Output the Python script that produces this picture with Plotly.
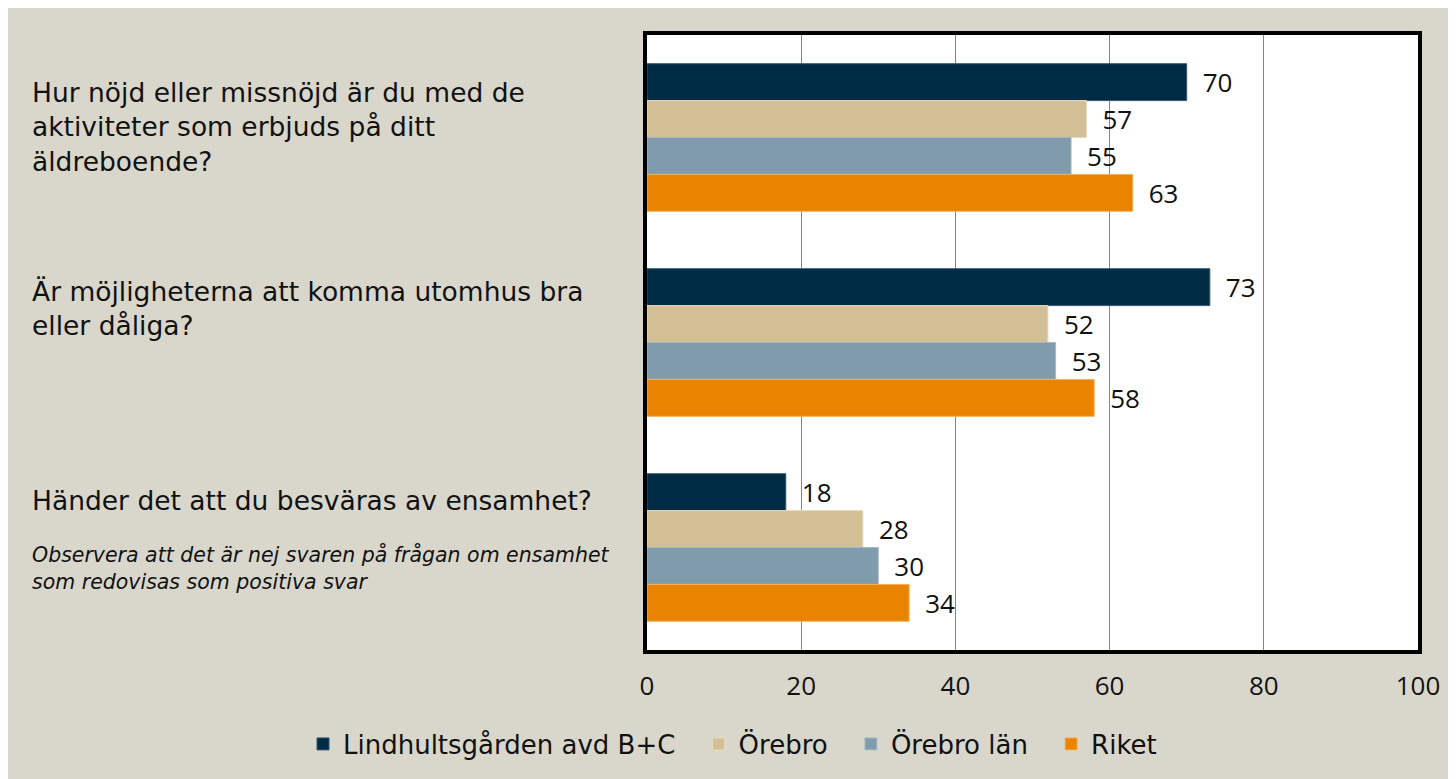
import plotly.graph_objects as go

questions = ["Q1", "Q2", "Q3"]
question_texts = [
    "Hur nöjd eller missnöjd är du med de<br>aktiviteter som erbjuds på ditt<br>äldreboende?",
    "Är möjligheterna att komma utomhus bra<br>eller dåliga?",
    "Händer det att du besväras av ensamhet?",
]
note_text = "Observera att det är nej svaren på frågan om ensamhet<br>som redovisas som positiva svar"

series_names = ["Lindhultsgården avd B+C", "Örebro", "Örebro län", "Riket"]
lindhult = [70, 73, 18]
orebro = [57, 52, 28]
orebro_lan = [55, 53, 30]
riket = [63, 58, 34]
series_values = [lindhult, orebro, orebro_lan, riket]
colors = ["#002B45", "#D3BF96", "#7F9BAC", "#EA8400"]
edge_colors = ["#3A5870", "#E8DABD", "#A6BAC6", "#F5B060"]
x_ticks = [0, 20, 40, 60, 80, 100]

FONT = "Open Sans, sans-serif"
TFONT = "DejaVu Sans, sans-serif"

L, R, T, B = 639, 46, 27, 137
PW = 1456 - L - R
PH = 779 - T - B

fig = go.Figure()
n = len(series_names)
for i, (name, vals, c, ec) in enumerate(zip(series_names, series_values, colors, edge_colors)):
    pad = "\u2002\u2009" if i < n - 1 else ""
    fig.add_trace(go.Bar(
        y=questions, x=vals, name=name + pad, orientation="h",
        marker=dict(color=c, line=dict(color=ec, width=1)),
        text=["\u2002" + str(v) for v in vals], textposition="outside",
        textfont=dict(size=26, color="#111111", family=FONT),
        cliponaxis=False,
    ))

ann = []
shifts = [10.5, 34, 47]
xq = (22 - L) / PW
for q, t, s in zip(questions, question_texts, shifts):
    ann.append(dict(x=xq, xref="paper", y=q, yref="y", yshift=s,
                    text=t, showarrow=False, xanchor="left", yanchor="middle",
                    align="left", font=dict(size=26.5, family=TFONT, color="#111111")))
ann.append(dict(x=xq, xref="paper", y=questions[2], yref="y", yshift=-20,
                text=note_text, showarrow=False, xanchor="left", yanchor="middle",
                align="left", font=dict(size=20.5, family=TFONT, color="#111111", style="italic")))

fig.update_layout(
    width=1456, height=779,
    paper_bgcolor="#D9D7CB", plot_bgcolor="#FFFFFF",
    margin=dict(l=L, r=R, t=T, b=B, autoexpand=False),
    barmode="group", bargap=0.28, bargroupgap=0,
    annotations=ann,
    showlegend=True,
    legend=dict(orientation="h", xref="paper", x=(295 - L) / PW, xanchor="left",
                yref="paper", y=-(736 - (779 - B)) / PH, yanchor="middle",
                font=dict(size=26, family=TFONT, color="#111111"),
                bgcolor="rgba(0,0,0,0)", itemwidth=30, traceorder="normal"),
)
fig.update_xaxes(range=[0, 100], tickvals=x_ticks, ticktext=[str(v) for v in x_ticks],
                 showgrid=True, gridcolor="#858585", gridwidth=1,
                 showline=True, linecolor="black", linewidth=4, mirror=True,
                 ticks="", ticklabelstandoff=10, zeroline=False,
                 tickfont=dict(size=26, family=FONT, color="#111111"))
fig.update_yaxes(autorange="reversed", showticklabels=False, showgrid=False,
                 showline=True, linecolor="black", linewidth=4, mirror=True, ticks="")

fig.write_html("out.html")
